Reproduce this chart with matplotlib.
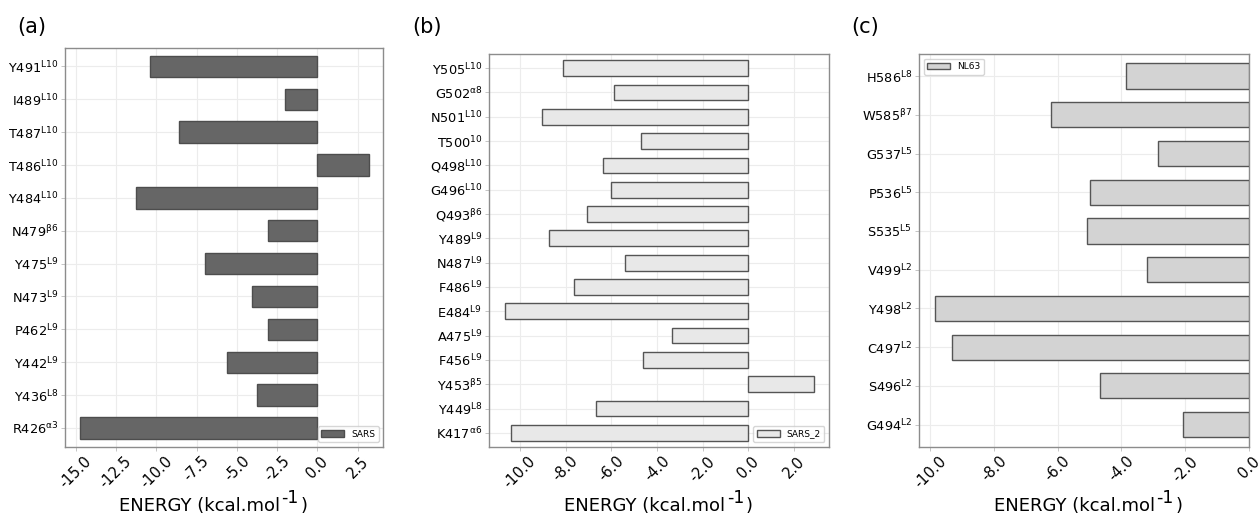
import matplotlib
matplotlib.use("Agg")
import matplotlib.pyplot as plt
import numpy as np
from matplotlib.ticker import FormatStrFormatter, MultipleLocator

# ---------------- data (top-to-bottom order) ----------------
sars_labels = [r"Y491$^{\mathrm{L10}}$", r"I489$^{\mathrm{L10}}$", r"T487$^{\mathrm{L10}}$",
               r"T486$^{\mathrm{L10}}$", r"Y484$^{\mathrm{L10}}$", r"N479$^{\mathrm{\beta6}}$",
               r"Y475$^{\mathrm{L9}}$", r"N473$^{\mathrm{L9}}$", r"P462$^{\mathrm{L9}}$",
               r"Y442$^{\mathrm{L9}}$", r"Y436$^{\mathrm{L8}}$", r"R426$^{\mathrm{\alpha3}}$"]
sars_energy = [-10.4, -2.0, -8.6, 3.2, -11.25, -3.05, -7.0, -4.05, -3.05, -5.6, -3.75, -14.75]

sars2_labels = [r"Y505$^{\mathrm{L10}}$", r"G502$^{\mathrm{\alpha8}}$", r"N501$^{\mathrm{L10}}$",
                r"T500$^{\mathrm{10}}$", r"Q498$^{\mathrm{L10}}$", r"G496$^{\mathrm{L10}}$",
                r"Q493$^{\mathrm{\beta6}}$", r"Y489$^{\mathrm{L9}}$", r"N487$^{\mathrm{L9}}$",
                r"F486$^{\mathrm{L9}}$", r"E484$^{\mathrm{L9}}$", r"A475$^{\mathrm{L9}}$",
                r"F456$^{\mathrm{L9}}$", r"Y453$^{\mathrm{\beta5}}$", r"Y449$^{\mathrm{L8}}$",
                r"K417$^{\mathrm{\alpha6}}$"]
sars2_energy = [-8.13, -5.87, -9.05, -4.69, -6.35, -6.0, -7.08, -8.74, -5.39,
                -7.62, -10.66, -3.33, -4.61, 2.85, -6.66, -10.39]

nl63_labels = [r"H586$^{\mathrm{L8}}$", r"W585$^{\mathrm{\beta7}}$", r"G537$^{\mathrm{L5}}$",
               r"P536$^{\mathrm{L5}}$", r"S535$^{\mathrm{L5}}$", r"V499$^{\mathrm{L2}}$",
               r"Y498$^{\mathrm{L2}}$", r"C497$^{\mathrm{L2}}$", r"S496$^{\mathrm{L2}}$",
               r"G494$^{\mathrm{L2}}$"]
nl63_energy = [-3.86, -6.22, -2.85, -4.97, -5.09, -3.19, -9.85, -9.33, -4.68, -2.06]

panel_titles = ["(a)", "(b)", "(c)"]
series_names = ["SARS", "SARS_2", "NL63"]
xlabel_parts = ["ENERGY (kcal.mol", "-1", ")"]

# ---------------- figure ----------------
W, H = 1260, 516
fig = plt.figure(figsize=(W / 100, H / 100), dpi=100)
renderer = fig.canvas.get_renderer()

def rect(l, t, r, b):
    return [l / W, 1 - b / H, (r - l) / W, (b - t) / H]

axes_rects = [rect(65.3, 47.7, 383.3, 446.7),
              rect(489.3, 54.3, 829.0, 446.7),
              rect(919.3, 54.0, 1248.7, 446.7)]
face_colors = ["#666666", "#e8e8e8", "#d3d3d3"]
edge_colors = ["#4d4d4d", "#555555", "#555555"]
tick_steps = [2.5, 2.0, 2.0]
legend_locs = ["lower right", "lower right", "upper left"]
xlabel_center_px = [213, 658.5, 1088]
title_pos = [(17, 27), (412, 27), (851, 27)]

datasets = [(sars_labels, sars_energy), (sars2_labels, sars2_energy), (nl63_labels, nl63_energy)]


def compound_label(cx_px):
    base_main = 1 - 510.7 / H
    base_sup = 1 - 503.0 / H
    sizes = [13, 12.5, 13]
    bases = [base_main, base_sup, base_main]
    texts = []
    widths = []
    for s, fs, b in zip(xlabel_parts, sizes, bases):
        t = fig.text(0, b, s, fontsize=fs, ha="left", va="baseline")
        texts.append(t)
        widths.append(t.get_window_extent(renderer=renderer).width)
    gaps = [1.5, 1.5, 0]
    total = sum(widths) + sum(gaps[:2])
    x = cx_px - total / 2
    for t, w, g in zip(texts, widths, gaps):
        t.set_x(x / W)
        x += w + g


for i, (labels, vals) in enumerate(datasets):
    ax = fig.add_axes(axes_rects[i])
    n = len(labels)
    y = np.arange(n)[::-1]
    ax.barh(y, vals, height=0.65, color=face_colors[i], edgecolor=edge_colors[i],
            linewidth=1.0, label=series_names[i], zorder=3)
    ax.set_yticks(y)
    ax.set_yticklabels(labels, fontsize=9.3)
    ax.set_ylim(-0.57, n - 1 + 0.57)
    ax.xaxis.set_major_locator(MultipleLocator(tick_steps[i]))
    ax.xaxis.set_major_formatter(FormatStrFormatter("%.1f"))
    if i == 2:
        ax.set_xlim(right=0)
    for lab in ax.get_xticklabels():
        lab.set_rotation(45)
        lab.set_fontsize(10.5)
    ax.tick_params(axis="both", length=3, width=0.6, color="#bbbbbb", pad=2)
    ax.grid(True, color="#ececec", linewidth=0.8, zorder=0)
    ax.set_axisbelow(True)
    for sp in ax.spines.values():
        sp.set_color("#8c8c8c")
        sp.set_linewidth(1.0)
    ax.legend(loc=legend_locs[i], fontsize=6.5, frameon=True, handlelength=2.5)
    compound_label(xlabel_center_px[i])
    fig.text(title_pos[i][0] / W, 1 - title_pos[i][1] / H, panel_titles[i],
             fontsize=15, ha="left", va="center")

fig.savefig("out.png", dpi=100)
